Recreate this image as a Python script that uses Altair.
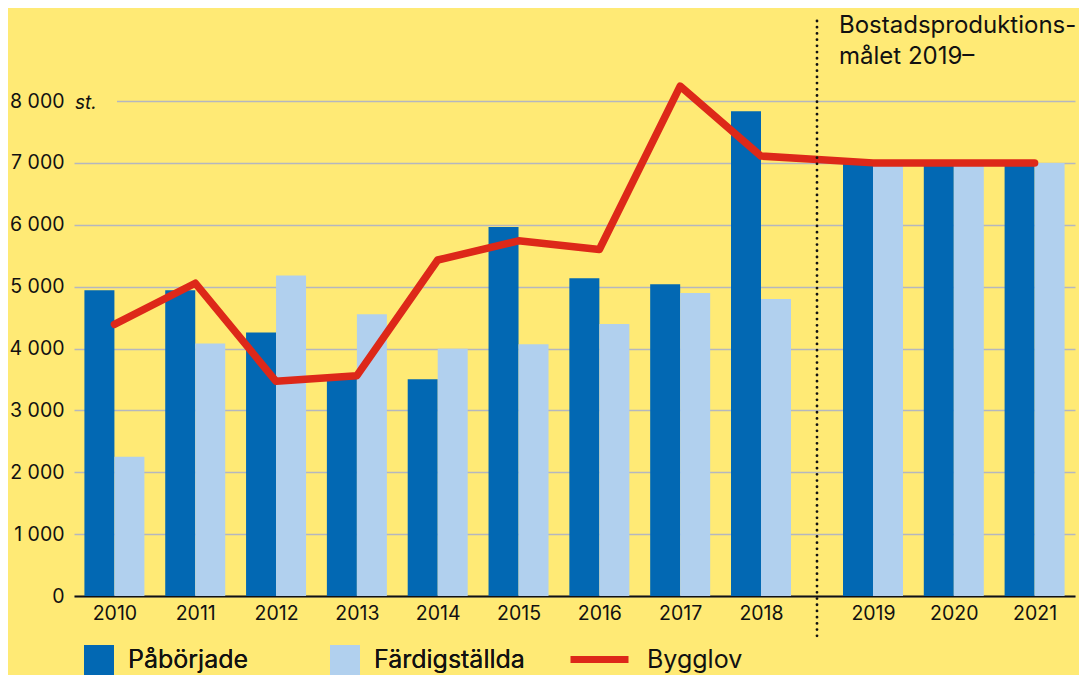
import altair as alt
import pandas as pd

years = [2010, 2011, 2012, 2013, 2014, 2015, 2016, 2017, 2018, 2019, 2020, 2021]
paborjade = [4940, 4940, 4260, 3520, 3505, 5965, 5135, 5040, 7835, 7000, 7000, 7000]
fardigstallda = [2250, 4080, 5180, 4555, 3995, 4070, 4395, 4895, 4800, 7000, 7000, 7000]
bygglov = [4390, 5055, 3470, 3560, 5430, 5740, 5600, 8240, 7110, 7000, 7000, 7000]
y_ticks = [0, 1000, 2000, 3000, 4000, 5000, 6000, 7000, 8000]
goal_start = 2018.5  # boundary between outcome and goal period
annotation = "Bostadsproduktions-\nmålet 2019–"

BG = "#FFEA75"
DARK = "#0268B3"
LIGHT = "#B1D0EE"
RED = "#DD2819"
GRID = "#B5B7BF"
FONT = "Inter"

bars = pd.DataFrame({
    "year": years * 2,
    "serie": ["Påbörjade"] * len(years) + ["Färdigställda"] * len(years),
    "value": paborjade + fardigstallda,
})
line_df = pd.DataFrame({"year": years, "serie": ["Bygglov"] * len(years), "value": bygglov})

W, H = 1001, 495
xscale = alt.Scale(domain=[2009.5, 2018, 2019, 2021.5], range=[0, 687, 799, W],
                   nice=False, zero=False, padding=0)
yscale = alt.Scale(domain=[0, 8000], nice=False, zero=True, padding=0)

x_enc = alt.X("year:Q", scale=xscale, axis=alt.Axis(
    values=years, format="d", title=None, grid=False, ticks=False, labelPadding=8,
    labelFont=FONT, labelFontSize=19.5, labelColor="#111111", labelFlush=False,
    labelOverlap=False, domainColor="#111111", domainWidth=2))
y_enc = alt.Y("value:Q", scale=yscale, stack=None, axis=alt.Axis(
    values=y_ticks, title=None, ticks=False, domain=False, labelPadding=10,
    labelExpr="replace(format(datum.value, ','), ',', ' ')",
    labelFont=FONT, labelFontSize=19.5, labelColor="#111111",
    grid=True, gridColor=GRID, gridWidth=1.6))

color = alt.Color("serie:N", scale=alt.Scale(domain=["Påbörjade", "Färdigställda"], range=[DARK, LIGHT]),
                  legend=alt.Legend(title=None, orient="none", legendX=10, legendY=544, direction="horizontal",
                                    symbolType="square", symbolSize=900, symbolStrokeWidth=0,
                                    labelFont=FONT, labelFontSize=25, labelColor="#111111",
                                    labelOffset=14, columnPadding=81, padding=0))

base_bar = alt.Chart(bars)
dark = base_bar.transform_filter(alt.datum.serie == "Påbörjade").mark_bar(
    orient="vertical", width=30, xOffset=-15).encode(x=x_enc, y=y_enc, color=color)
light = base_bar.transform_filter(alt.datum.serie == "Färdigställda").mark_bar(
    orient="vertical", width=30, xOffset=15).encode(x=x_enc, y=y_enc, color=color)

line = alt.Chart(line_df).mark_line(strokeWidth=7.5, strokeCap="round", strokeJoin="round").encode(
    x=x_enc, y=y_enc,
    stroke=alt.Stroke("serie:N", scale=alt.Scale(domain=["Bygglov"], range=[RED]),
                      legend=alt.Legend(title=None, orient="none", legendX=493, legendY=526,
                                        symbolType="stroke", symbolSize=3364, symbolStrokeWidth=7,
                                        labelFont=FONT, labelFontSize=25, labelColor="#111111",
                                        labelOffset=15, padding=0)))

divider = alt.Chart(pd.DataFrame({"x": [goal_start]})).mark_rule(
    color="#111111", strokeWidth=2.8, strokeDash=[0.01, 6.2], strokeCap="round").encode(
    x=alt.X("x:Q", scale=xscale), y=alt.value(-80), y2=alt.value(536))

note = alt.Chart(pd.DataFrame({"t": [annotation]})).mark_text(
    align="left", baseline="alphabetic", font=FONT, fontSize=24, color="#111111",
    lineBreak="\n", lineHeight=31).encode(
    text="t:N", x=alt.value(765), y=alt.value(-68))

cover = alt.Chart(pd.DataFrame({"a": [0]})).mark_rule(color=BG, strokeWidth=4).encode(
    x=alt.value(-1), x2=alt.value(43), y=alt.value(0))
unit = alt.Chart(pd.DataFrame({"t": ["st."]})).mark_text(
    align="left", baseline="alphabetic", font=FONT, fontSize=19, fontStyle="italic", color="#111111").encode(
    text="t:N", x=alt.value(1), y=alt.value(8))

chart = alt.layer(dark, light, line, divider, cover, unit, note).resolve_scale(
    color="independent", stroke="independent").properties(
    width=W, height=H, background=BG,
    autosize=alt.AutoSizeParams(type="none"),
    padding={"left": 66, "top": 93, "right": 4, "bottom": 79},
).configure_view(stroke=None)

chart.save("out.html", embed_options={"renderer": "svg", "actions": False})
